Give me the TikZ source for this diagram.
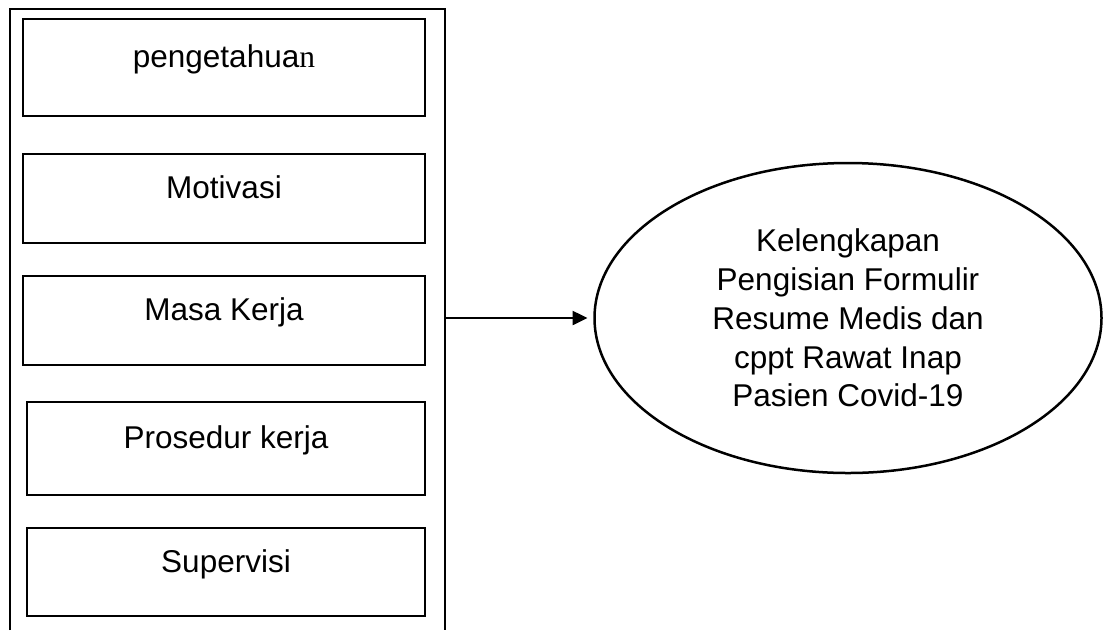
\documentclass[tikz,border=0pt]{standalone}
\usepackage{fontspec}
\setmainfont{Liberation Sans}
\newfontfamily\serifpart{Liberation Serif}
\usepackage{tikz}
\usetikzlibrary{arrows.meta,positioning,shapes.geometric}
\tikzset{
  factor box/.style={draw=black,line width=2.5pt,inner sep=0pt,outer sep=0pt,minimum width=402pt,text height=45pt,text depth=45pt,font=\fontsize{31.5}{38.8}\selectfont},
  outcome ellipse/.style={ellipse,draw=black,line width=2.5pt,align=center,inner sep=0pt,outer sep=0pt,minimum width=507pt,minimum height=310pt,font=\fontsize{31.5}{38.8}\selectfont},
  frame line/.style={draw=black,line width=2.5pt},
  flow arrow/.style={-{Triangle[length=15pt,width=14pt]},line width=2.5pt,draw=black,shorten >=7pt}
}
\begin{document}
\begin{tikzpicture}[x=1pt,y=1pt]
        \useasboundingbox (0,0) rectangle (1105,-630);
        \draw[frame line] (10,-630) -- (10,-9) -- (445,-9) -- (445,-630);
        \coordinate (frameright) at (445,-318);
        \node[factor box,text height=48.5pt,text depth=48.5pt] (pengetahuan) at (224,-67.5) {pengetahua{\serifpart n}};
        \node[factor box,text height=44.5pt,text depth=44.5pt,below=38pt of pengetahuan] (motivasi) {Motivasi};
        \node[factor box,text height=44.5pt,text depth=44.5pt,below=33pt of motivasi] (masakerja) {Masa Kerja};
        \node[factor box,minimum width=398pt,text height=46.5pt,text depth=46.5pt,below=37pt of masakerja,xshift=2pt] (prosedur) {Prosedur kerja};
        \node[factor box,minimum width=398pt,text height=44pt,text depth=44pt,below=33pt of prosedur] (supervisi) {Supervisi};
        \node[outcome ellipse] (kelengkapan) at (848,-318) {Kelengkapan\\Pengisian Formulir\\Resume Medis dan\\cppt Rawat Inap\\Pasien Covid-19};
        \draw[flow arrow] (frameright) -- (kelengkapan.west);
      \end{tikzpicture}
\end{document}
